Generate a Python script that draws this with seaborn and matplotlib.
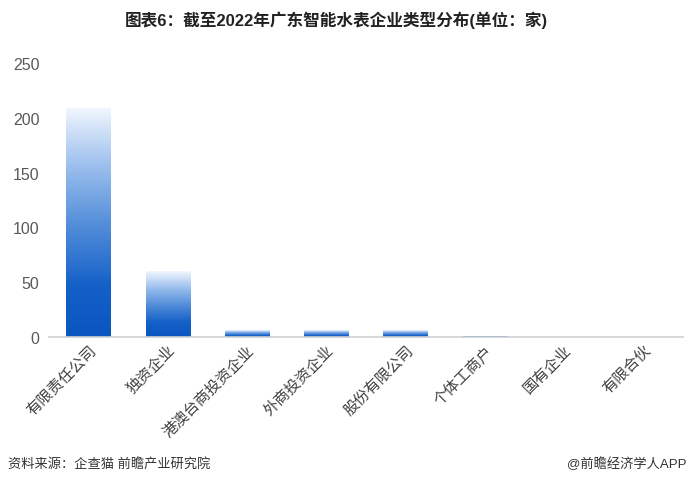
import matplotlib
matplotlib.use("Agg")
import matplotlib.pyplot as plt
import numpy as np
import pandas as pd
import seaborn as sns
from matplotlib.colors import LinearSegmentedColormap

# data
categories = ["有限责任公司", "独资企业", "港澳台商投资企业", "外商投资企业",
              "股份有限公司", "个体工商户", "国有企业", "有限合伙"]
counts = [209, 60, 6, 6, 6, 1, 0, 0]
y_ticks = [0, 50, 100, 150, 200, 250]

title = "图表6：截至2022年广东智能水表企业类型分布(单位：家)"
source_note = "资料来源：企查猫 前瞻产业研究院"
brand_note = "@前瞻经济学人APP"

sns.set_theme(style="white")
plt.rcParams["font.family"] = ["Liberation Sans", "Noto Sans CJK SC", "DejaVu Sans"]

df = pd.DataFrame({"type": categories, "count": counts})

fig = plt.figure(figsize=(6.89, 4.85), dpi=100)
ax = fig.add_axes([49 / 689, 147 / 485, 634 / 689, 274 / 485])

sns.barplot(data=df, x="type", y="count", ax=ax, color="#1058c2",
            width=0.56, saturation=1)

# blue -> white vertical gradient inside every bar
grad_cmap = LinearSegmentedColormap.from_list(
    "grad", [(0.0, "#0b55c1"), (0.22, "#1460c8"), (0.5, "#5690da"),
             (0.75, "#9dc0ee"), (1.0, "#f2f7fe")])
grad = np.linspace(0, 1, 256).reshape(-1, 1)
for patch in ax.patches:
    x0, y0 = patch.get_x(), patch.get_y()
    w, h = patch.get_width(), patch.get_height()
    if h <= 0:
        continue
    patch.set_facecolor("none")
    patch.set_edgecolor("none")
    img = ax.imshow(grad, cmap=grad_cmap, origin="lower", aspect="auto",
                    extent=(x0, x0 + w, y0, y0 + h), zorder=2)
    img.set_clip_path(patch)

ax.set_xlim(-0.5, len(categories) - 0.5)
ax.set_ylim(0, 250)
ax.set_yticks(y_ticks)
ax.set_xlabel("")
ax.set_ylabel("")
ax.tick_params(axis="y", labelsize=11.5, labelcolor="#595959", length=0, pad=7)
ax.tick_params(axis="x", labelsize=11, labelcolor="#404040", length=0, pad=4)
for lbl in ax.get_xticklabels():
    lbl.set_rotation(45)
    lbl.set_ha("right")
    lbl.set_rotation_mode("anchor")

sns.despine(ax=ax, left=True)
ax.spines["bottom"].set_color("#d0d0d0")
ax.spines["bottom"].set_linewidth(1.2)

fig.text(0.488, 0.958, title, ha="center", va="center", fontsize=12,
         fontweight="bold", color="#222222")
fig.text(8 / 689, 0.042, source_note, ha="left", va="center", fontsize=9.5,
         color="#333333")
fig.text(686 / 689, 0.042, brand_note, ha="right", va="center", fontsize=9.5,
         color="#333333")

fig.savefig("out.png", dpi=100)
